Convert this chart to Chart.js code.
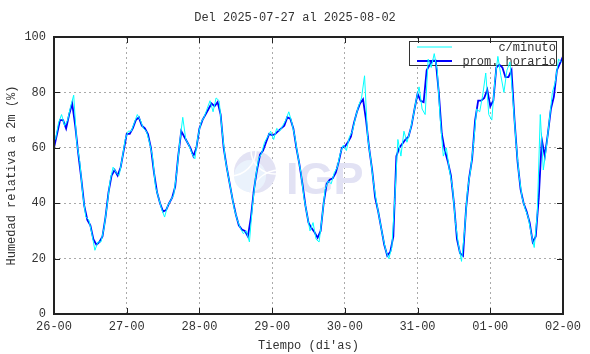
<!DOCTYPE html>
<html>
<head>
<meta charset="utf-8">
<script src="https://cdn.jsdelivr.net/npm/chart.js@4.4.1/dist/chart.umd.min.js"></script>
<style>
  html, body { margin: 0; padding: 0; background: #fff; }
  #wrap { width: 590px; height: 354px; position: relative; }
</style>
</head>
<body>
<div id="wrap"><canvas id="hr-chart" width="590" height="354"></canvas></div>
<script>
// tick labels along the time axis (one per day, 00h)
const dayLabels = ['26-00', '27-00', '28-00', '29-00', '30-00', '31-00', '01-00', '02-00'];
const yTicks = [0, 20, 40, 60, 80, 100];

const chartTitle = 'Del 2025-07-27 al 2025-08-02';
const xTitle = "Tiempo (di'as)";
const yTitle = 'Humedad relativa a 2m (%)';
const seriesNames = ['c/minuto', 'prom. horario'];

// hourly mean RH, one value per hour from 26-00 to 02-00
const hourlyRH = [
    60, 65, 70, 70, 67, 72, 76, 68, 58, 49, 39, 34, 32, 27, 25, 26, 28, 35, 44, 50, 52, 50, 53, 59,
    65, 65, 67, 70, 71, 68, 67, 65, 60, 51, 44, 40, 37, 37.5, 40, 42, 46, 57, 66, 64, 62, 60, 57, 60,
    67, 70, 72, 74, 76, 75, 76.5, 72, 60, 53, 47, 41, 36, 32, 30.5, 30, 28, 35, 45, 52, 57.5, 59, 62, 65,
    64.5, 65, 66, 67, 68, 71, 70.5, 67, 60, 54, 47, 39, 33, 31, 29.5, 27.5, 30, 40, 47, 48.5, 49, 51, 55, 60,
    60.5, 62, 64, 69, 73, 76, 77.5, 70, 60, 52, 42, 37, 31, 25, 21, 22.5, 28, 57, 60, 61.5, 63, 64, 68, 74,
    79.5, 77, 76.5, 88, 90, 91.5, 91.5, 80, 65, 59, 55, 50, 40, 27, 22, 21, 38, 49, 56, 70, 77, 77, 78, 81,
    75, 77, 89, 90, 89, 85.5, 85.5, 88, 70, 55, 45, 40, 37, 33, 26, 28, 42, 63, 57, 65, 74, 78.5, 88, 90.5,
    93
];

// per-minute trace, sampled at the half hours (spikes estimated from the cyan fringe)
const minuteRH = [
    63, 69, 72, 68, 70, 75, 79, 62, 55, 43, 35, 34, 29, 23, 26, 26, 31, 39, 48, 53, 51, 50, 56, 63,
    66, 66, 69, 72, 70, 67, 66, 62, 57, 46, 42, 38, 35, 39, 41, 43, 51, 62, 71, 63, 61, 58, 56, 64,
    69, 71, 74, 77, 73, 78, 77, 66, 56, 50, 44, 38, 34, 31, 29, 30, 26, 39, 49, 56, 58, 62, 64, 66,
    63, 67, 66, 68, 70, 73, 69, 64, 57, 51, 42, 36, 30, 33, 27, 26, 35, 45, 48, 47, 51, 53, 58, 61,
    59, 64, 66, 71, 75, 78, 86, 64, 56, 47, 40, 34, 28, 23, 20, 24, 42, 63, 57, 66, 62, 66, 71, 77,
    82, 74, 72, 92, 89, 94, 88, 70, 57, 60, 52, 46, 33, 25, 19, 30, 45, 52, 62, 74, 73, 79, 87, 72,
    70, 84, 93, 86, 80, 88, 91, 77, 62, 50, 42, 38, 35, 29, 24, 36, 72, 52, 60, 70, 80, 84, 92, 91
];

const FONT = '12px "Liberation Mono", "DejaVu Sans Mono", monospace';
const TEXT = '#333';

// gnuplot look: framed box, ticks pointing inward, key + logo under the data
const gnuplotLook = {
    id: 'gnuplotLook',
    beforeDatasetsDraw(chart) {
        const ctx = chart.ctx;
        ctx.save();

        // faint IGP watermark
        ctx.fillStyle = '#e3e3f4';
        ctx.beginPath(); ctx.arc(255, 172, 21, 0, Math.PI * 2); ctx.fill();
        ctx.fillStyle = '#eaf2fc';
        ctx.beginPath(); ctx.arc(250, 176, 16, 0, Math.PI * 2); ctx.fill();
        ctx.strokeStyle = '#ffffff'; ctx.lineWidth = 1.5;
        [[275, 150, 24], [280, 200, 30], [230, 150, 26]].forEach(a => {
            ctx.beginPath(); ctx.arc(a[0], a[1], a[2], 0, Math.PI * 2); ctx.stroke();
        });
        ctx.font = 'bold 45px "Liberation Sans", Arial, sans-serif';
        ctx.fillStyle = '#e2e2f4';
        ctx.textBaseline = 'alphabetic'; ctx.textAlign = 'left';
        ctx.fillText('IGP', 286, 194);

        // key box
        ctx.fillStyle = '#fff';
        ctx.fillRect(409, 42, 147, 24);
        ctx.strokeStyle = '#333'; ctx.lineWidth = 1;
        ctx.strokeRect(409.5, 41.5, 147, 24);
        const cols = chart.data.datasets.map(d => d.borderColor);
        [47, 61].forEach((y, i) => {
            ctx.strokeStyle = cols[i]; ctx.lineWidth = i ? 1.8 : 1;
            ctx.beginPath(); ctx.moveTo(417, y); ctx.lineTo(452, y); ctx.stroke();
            ctx.font = FONT; ctx.fillStyle = TEXT;
            ctx.textAlign = 'right'; ctx.textBaseline = 'middle';
            ctx.fillText(chart.data.datasets[i].label, 556, y + 1);
        });
        ctx.restore();
    },
    afterDraw(chart) {
        const ctx = chart.ctx;
        const a = chart.chartArea;
        const xs = chart.scales.x, ys = chart.scales.y;
        ctx.save();
        ctx.strokeStyle = '#222';
        ctx.lineWidth = 1;
        ctx.beginPath();
        xs.ticks.forEach(t => {
            const px = Math.round(xs.getPixelForValue(t.value)) + 0.5;
            ctx.moveTo(px, a.top); ctx.lineTo(px, a.top + 6);
            ctx.moveTo(px, a.bottom); ctx.lineTo(px, a.bottom - 6);
        });
        ys.ticks.forEach(t => {
            const py = Math.round(ys.getPixelForValue(t.value)) + 0.5;
            ctx.moveTo(a.left, py); ctx.lineTo(a.left + 6, py);
            ctx.moveTo(a.right, py); ctx.lineTo(a.right - 6, py);
        });
        ctx.stroke();
        ctx.lineWidth = 2;
        ctx.strokeRect(a.left, a.top, a.right - a.left, a.bottom - a.top);

        ctx.font = FONT; ctx.fillStyle = TEXT;
        ctx.textAlign = 'center'; ctx.textBaseline = 'middle';
        ctx.fillText(chartTitle, 295, 18);
        ctx.fillText(xTitle, (a.left + a.right) / 2, 346);
        ctx.translate(12, (a.top + a.bottom) / 2);
        ctx.rotate(-Math.PI / 2);
        ctx.fillText(yTitle, 0, 0);
        ctx.restore();
    }
};

const ctx = document.getElementById('hr-chart').getContext('2d');
window.hrChart = new Chart(ctx, {
    type: 'line',
    data: {
        datasets: [{
            label: seriesNames[0],
            data: minuteRH.map((v, i) => ({ x: i + 0.5, y: v })),
            borderColor: '#00ffff',
            borderWidth: 1,
            pointRadius: 0,
            tension: 0
        }, {
            label: seriesNames[1],
            data: hourlyRH.map((v, i) => ({ x: i, y: v })),
            borderColor: '#0000ff',
            borderWidth: 1.8,
            pointRadius: 0,
            tension: 0
        }]
    },
    options: {
        responsive: false,
        animation: false,
        layout: { padding: { top: 37, right: 27, left: 0, bottom: 0 } },
        plugins: { legend: { display: false }, tooltip: { enabled: false }, title: { display: false } },
        scales: {
            x: {
                type: 'linear',
                min: 0,
                max: (dayLabels.length - 1) * 24,
                afterFit: s => { s.height = 40; },
                grid: { color: '#aaaaaa', lineWidth: 1, drawTicks: false },
                border: { display: false, dash: [2, 3] },
                ticks: {
                    stepSize: 24,
                    padding: 6,
                    color: TEXT,
                    font: { family: '"Liberation Mono", "DejaVu Sans Mono", monospace', size: 12 },
                    maxRotation: 0,
                    autoSkip: false,
                    callback: v => dayLabels[Math.round(v / 24)]
                }
            },
            y: {
                min: yTicks[0],
                max: yTicks[yTicks.length - 1],
                afterFit: s => { s.width = 54; },
                grid: { color: '#aaaaaa', lineWidth: 1, drawTicks: false },
                border: { display: false, dash: [2, 3] },
                ticks: {
                    stepSize: yTicks[1] - yTicks[0],
                    padding: 8,
                    color: TEXT,
                    font: { family: '"Liberation Mono", "DejaVu Sans Mono", monospace', size: 12 }
                }
            }
        }
    },
    plugins: [gnuplotLook]
});
</script>
</body>
</html>
